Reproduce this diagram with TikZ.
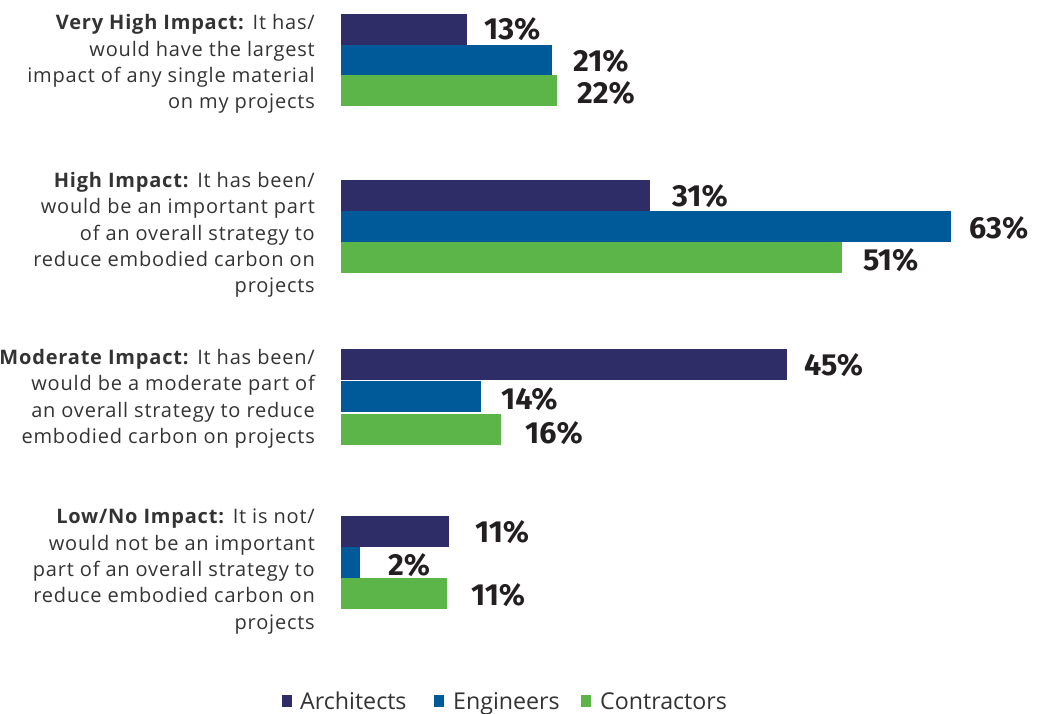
\documentclass[tikz,border=0pt]{standalone}
\usepackage{fontspec}
\setmainfont[LetterSpace=4]{Open Sans}
\newfontfamily\numfont{Fira Sans}
\newfontfamily\legfont{Open Sans}
\definecolor{arch}{RGB}{46,45,103}
\definecolor{eng}{RGB}{0,89,152}
\definecolor{con}{RGB}{91,181,72}
\definecolor{txt}{RGB}{51,51,51}
\definecolor{num}{RGB}{35,31,32}
\tikzset{
  barbox/.style={inner sep=0, outer sep=0, draw=none, anchor=north west, minimum height=31pt},
  val/.style={inner sep=0, anchor=base west, text=num, font=\numfont\bfseries\fontsize{30.5}{30.5}\selectfont},
  cat/.style={inner sep=0, anchor=north east, align=right, text=txt, font=\fontsize{20}{26.4}\selectfont},
  leg/.style={inner sep=0, anchor=base west, text=txt, font=\legfont\fontsize{23.2}{23.2}\selectfont},
  sq/.style={inner sep=0, draw=none, minimum width=10pt, minimum height=12pt},
}
\begin{document}
\begin{tikzpicture}[x=1pt,y=-1pt]
\useasboundingbox (0,0) rectangle (1040,713);
% group 1
\node[barbox, fill=arch, minimum width=126pt] (b11) at (341,14) {};
\node[barbox, fill=eng,  minimum width=211pt] (b12) at (341,44.5) {};
\node[barbox, fill=con,  minimum width=216pt] (b13) at (341,75) {};
\node[val] (v11) at (484,39.3) {13\%};
\node[val] (v12) at (573,71.7) {21\%};
\node[val] (v13) at (577,103.3) {22\%};
% group 2
\node[barbox, fill=arch, minimum width=309pt] (b21) at (341,180) {};
\node[barbox, fill=eng,  minimum width=610pt] (b22) at (341,211) {};
\node[barbox, fill=con,  minimum width=501pt] (b23) at (341,242) {};
\node[val] (v21) at (672,206.7) {31\%};
\node[val] (v22) at (969,238.3) {63\%};
\node[val] (v23) at (863,270) {51\%};
% group 3
\node[barbox, fill=arch, minimum width=446pt] (b31) at (341,348.6) {};
\node[barbox, fill=eng,  minimum width=140pt] (b32) at (341,381.4) {};
\node[barbox, fill=con,  minimum width=160pt] (b33) at (341,414) {};
\node[val] (v31) at (804,375.7) {45\%};
\node[val] (v32) at (501,409.6) {14\%};
\node[val] (v33) at (525,443.6) {16\%};
% group 4
\node[barbox, fill=arch, minimum width=108pt] (b41) at (341,516) {};
\node[barbox, fill=eng,  minimum width=19pt]  (b42) at (341,547) {};
\node[barbox, fill=con,  minimum width=106pt] (b43) at (341,578) {};
\node[val] (v41) at (475,542.3) {11\%};
\node[val] (v42) at (388,575) {2\%};
\node[val] (v43) at (471,605) {11\%};
% category texts
\node[cat] (c1) at (315,14.3) {\textbf{Very High Impact:} It has/\\would have the largest\\impact of any single material\\on my projects};
\node[cat] (c2) at (315,171.8) {\textbf{High Impact:} It has been/\\would be an important part\\of an overall strategy to\\reduce embodied carbon on\\projects};
\node[cat] (c3) at (315,348.8) {\textbf{Moderate Impact:} It has been/\\would be a moderate part of\\an overall strategy to reduce\\embodied carbon on projects};
\node[cat] (c4) at (315,508.8) {\textbf{Low/No Impact:} It is not/\\would not be an important\\part of an overall strategy to\\reduce embodied carbon on\\projects};
% legend
\node[sq, fill=arch] (l1) at (287,701) {};
\node[leg] (t1) at (300,709.5) {Architects};
\node[sq, fill=eng] (l2) at (439,701) {};
\node[leg] (t2) at (453,709.5) {Engineers};
\node[sq, fill=con] (l3) at (586,701) {};
\node[leg] (t3) at (600,709.5) {Contractors};
\end{tikzpicture}
\end{document}
